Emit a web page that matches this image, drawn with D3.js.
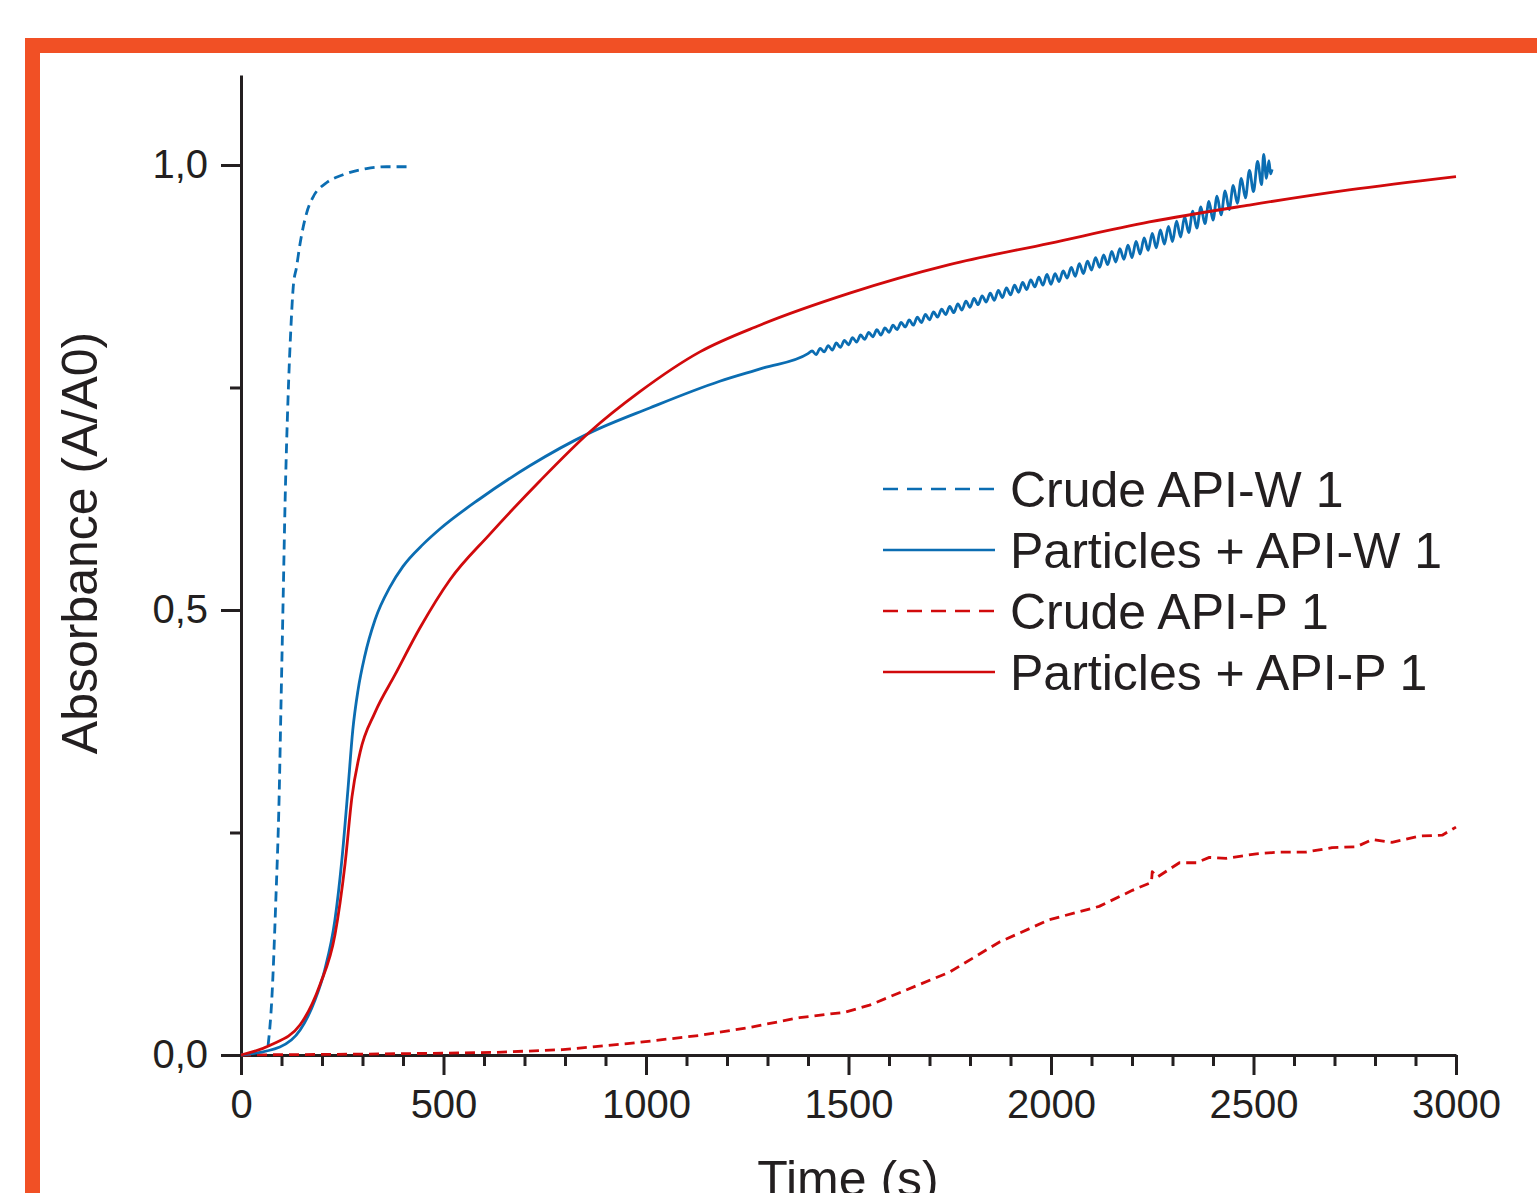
<!DOCTYPE html>
<html>
<head>
<meta charset="utf-8">
<script src="https://cdn.jsdelivr.net/npm/d3@7"></script>
<style>
    html, body { margin: 0; padding: 0; background: #fff; }
    svg text { font-family: "Liberation Sans", Arial, Helvetica, sans-serif; fill: #231f20; }
</style>
</head>
<body>
<svg id="chart"></svg>
<script>
// 数据：时间 (s) 与吸光度 (A/A0)
const crudeW_t = [67, 76, 86, 94, 99, 104, 109, 116, 123, 129, 137, 146, 162, 178, 211, 252, 310, 360, 421];
const crudeW_a = [0.011, 0.062, 0.174, 0.287, 0.399, 0.511, 0.624, 0.736, 0.815, 0.863, 0.885, 0.912, 0.946, 0.964, 0.980, 0.989, 0.996, 0.998, 0.998];

const partW_t = [0, 96, 146, 183, 207, 232, 249, 264, 276, 289, 306, 331, 368, 400, 450, 491, 590, 713, 861, 1009, 1182, 1290,
    1400, 1410, 1420, 1430, 1440, 1450, 1460, 1470, 1480, 1490, 1500, 1510, 1520, 1530, 1540, 1550, 1560, 1570, 1580, 1590,
    1600, 1610, 1620, 1630, 1640, 1650, 1660, 1670, 1680, 1690, 1700, 1710, 1720, 1730, 1740, 1750, 1760, 1770, 1780, 1790,
    1800, 1810, 1820, 1830, 1840, 1850, 1860, 1870, 1880, 1890, 1900, 1910, 1920, 1930, 1940, 1950, 1960, 1970, 1980, 1990,
    2000, 2010, 2020, 2030, 2040, 2050, 2060, 2070, 2080, 2090, 2100, 2110, 2120, 2130, 2140,
    2150, 2160, 2170, 2180, 2190, 2200, 2210, 2220, 2230, 2240, 2250, 2260, 2270, 2280, 2290, 2300, 2310, 2320, 2330, 2340,
    2350, 2360, 2370, 2380, 2390, 2400, 2410, 2420, 2430, 2440, 2450, 2460, 2470, 2480, 2490, 2500, 2510, 2520, 2525, 2532,
    2538, 2542, 2546];
const partW_a = [0, 0.009, 0.028, 0.062, 0.096, 0.152, 0.219, 0.298, 0.365, 0.410, 0.449, 0.489, 0.526, 0.549, 0.574, 0.591, 0.625, 0.662, 0.699, 0.727, 0.757, 0.772,
    0.788, 0.791, 0.787, 0.794, 0.790, 0.797, 0.792, 0.800, 0.795, 0.803, 0.798, 0.806, 0.801, 0.809, 0.804, 0.812, 0.807, 0.815, 0.809, 0.817,
    0.812, 0.820, 0.815, 0.823, 0.818, 0.826, 0.820, 0.829, 0.823, 0.832, 0.826, 0.835, 0.829, 0.838, 0.832, 0.841, 0.834, 0.844, 0.837, 0.847,
    0.840, 0.850, 0.843, 0.853, 0.846, 0.856, 0.848, 0.859, 0.851, 0.862, 0.854, 0.865, 0.857, 0.868, 0.860, 0.871, 0.863, 0.874, 0.865, 0.877,
    0.866, 0.878, 0.869, 0.881, 0.873, 0.885, 0.875, 0.889, 0.878, 0.892, 0.882, 0.896, 0.885, 0.899, 0.888,
    0.903, 0.891, 0.906, 0.894, 0.910, 0.896, 0.914, 0.900, 0.918, 0.904, 0.923, 0.907, 0.927, 0.911, 0.931, 0.914, 0.937, 0.919, 0.942, 0.924,
    0.948, 0.929, 0.953, 0.934, 0.959, 0.938, 0.965, 0.944, 0.971, 0.950, 0.977, 0.957, 0.985, 0.963, 0.994, 0.970, 1.004, 0.978, 1.012, 0.985,
    1.005, 0.990, 0.995];

const crudeP_t = [0, 300, 498, 632, 794, 960, 1132, 1256, 1379, 1490, 1552, 1626, 1749, 1873, 1996, 2119, 2201, 2248, 2250, 2263,
    2317, 2359, 2391, 2433, 2507, 2564, 2630, 2694, 2754, 2793, 2842, 2909, 2966, 3000];
const crudeP_a = [0, 0.001, 0.002, 0.003, 0.006, 0.013, 0.022, 0.031, 0.042, 0.048, 0.056, 0.070, 0.093, 0.127, 0.152, 0.167, 0.185, 0.194, 0.206, 0.200,
    0.216, 0.216, 0.222, 0.221, 0.226, 0.228, 0.228, 0.233, 0.234, 0.242, 0.239, 0.246, 0.247, 0.256];

const partP_t = [0, 72, 146, 195, 232, 257, 274, 294, 331, 380, 442, 516, 614, 738, 861, 984, 1133, 1281, 1503, 1749, 1996, 2243, 2490, 2736, 3000];
const partP_a = [0, 0.011, 0.034, 0.079, 0.135, 0.215, 0.290, 0.340, 0.385, 0.427, 0.480, 0.534, 0.585, 0.645, 0.700, 0.745, 0.790, 0.820, 0.856, 0.888, 0.912, 0.936, 0.955, 0.972, 0.987];

const seriesNames = ['Crude API-W 1', 'Particles + API-W 1', 'Crude API-P 1', 'Particles + API-P 1'];
const xTicks = [0, 500, 1000, 1500, 2000, 2500, 3000];
const yTicks = [0, 0.5, 1.0];

const BLUE = '#0b6db2';
const RED = '#d10a0c';
const INK = '#231f20';

const width = 1537, height = 1193;
const svg = d3.select('#chart').attr('width', width).attr('height', height);

// 橙色边框
svg.append('rect').attr('x', 25).attr('y', 38).attr('width', width - 25).attr('height', 15).attr('fill', '#f15025');
svg.append('rect').attr('x', 25).attr('y', 38).attr('width', 15).attr('height', height - 38).attr('fill', '#f15025');

// 比例尺
const x = d3.scaleLinear().domain([0, 3000]).range([241, 1456]);
const y = d3.scaleLinear().domain([0, 1.1011]).range([1055, 75]);

const fmtY = d => d3.format('.1f')(d).replace('.', ',');

// 次刻度
svg.append('g')
    .attr('transform', 'translate(0,1055)')
    .call(d3.axisBottom(x).tickValues(d3.range(100, 3000, 100).filter(v => v % 500)).tickSize(11).tickFormat(''))
    .call(g => g.select('.domain').remove());
svg.append('g')
    .attr('transform', 'translate(241,0)')
    .call(d3.axisLeft(y).tickValues([0.25, 0.75]).tickSize(11).tickFormat(''))
    .call(g => g.select('.domain').remove());

// 主刻度
svg.append('g')
    .attr('transform', 'translate(0,1055)')
    .call(d3.axisBottom(x).tickValues(xTicks).tickSize(20).tickPadding(15).tickFormat(d3.format('d')).tickSizeOuter(0));
svg.append('g')
    .attr('transform', 'translate(241,0)')
    .call(d3.axisLeft(y).tickValues(yTicks).tickSize(20).tickPadding(13).tickFormat(fmtY).tickSizeOuter(0));

svg.selectAll('.tick line').attr('stroke', INK).attr('stroke-width', 3);
svg.selectAll('.domain').attr('stroke', INK).attr('stroke-width', 3);
svg.selectAll('.tick text').attr('font-size', 40).attr('fill', INK)
    .style('font-family', '"Liberation Sans", Arial, Helvetica, sans-serif');

// 曲线
const line = d3.line().x(d => x(d[0])).y(d => y(d[1]));
const zip = (t, a) => t.map((v, i) => [v, a[i]]);

const series = [
    { name: seriesNames[0], data: zip(crudeW_t, crudeW_a), color: BLUE, dash: '10,6', curve: d3.curveMonotoneX },
    { name: seriesNames[1], data: zip(partW_t, partW_a), color: BLUE, dash: null, curve: d3.curveMonotoneX },
    { name: seriesNames[2], data: zip(crudeP_t, crudeP_a), color: RED, dash: '10,6', curve: d3.curveLinear },
    { name: seriesNames[3], data: zip(partP_t, partP_a), color: RED, dash: null, curve: d3.curveMonotoneX }
];

const drawOrder = [2, 0, 1, 3];
drawOrder.forEach(i => {
    const s = series[i];
    svg.append('path')
        .datum(s.data)
        .attr('fill', 'none')
        .attr('stroke', s.color)
        .attr('stroke-width', 2.8)
        .attr('stroke-linejoin', 'round')
        .attr('stroke-dasharray', s.dash)
        .attr('d', line.curve(s.curve));
});

// 图例
const legend = svg.append('g').attr('transform', 'translate(883,489)');
series.forEach((s, i) => {
    const row = legend.append('g').attr('transform', `translate(0,${i * 61})`);
    row.append('line')
        .attr('x1', 0).attr('x2', 112)
        .attr('stroke', s.color).attr('stroke-width', 2.6)
        .attr('stroke-dasharray', s.dash ? '15,9' : null);
    row.append('text')
        .attr('x', 127).attr('y', 18)
        .attr('font-size', 50)
        .text(s.name);
});

// 坐标轴标题
svg.append('text')
    .attr('transform', 'translate(97,543) rotate(-90)')
    .attr('text-anchor', 'middle')
    .attr('font-size', 50)
    .text('Absorbance (A/A0)');
svg.append('text')
    .attr('x', 848).attr('y', 1196)
    .attr('text-anchor', 'middle')
    .attr('font-size', 50)
    .text('Time (s)');
</script>
</body>
</html>
